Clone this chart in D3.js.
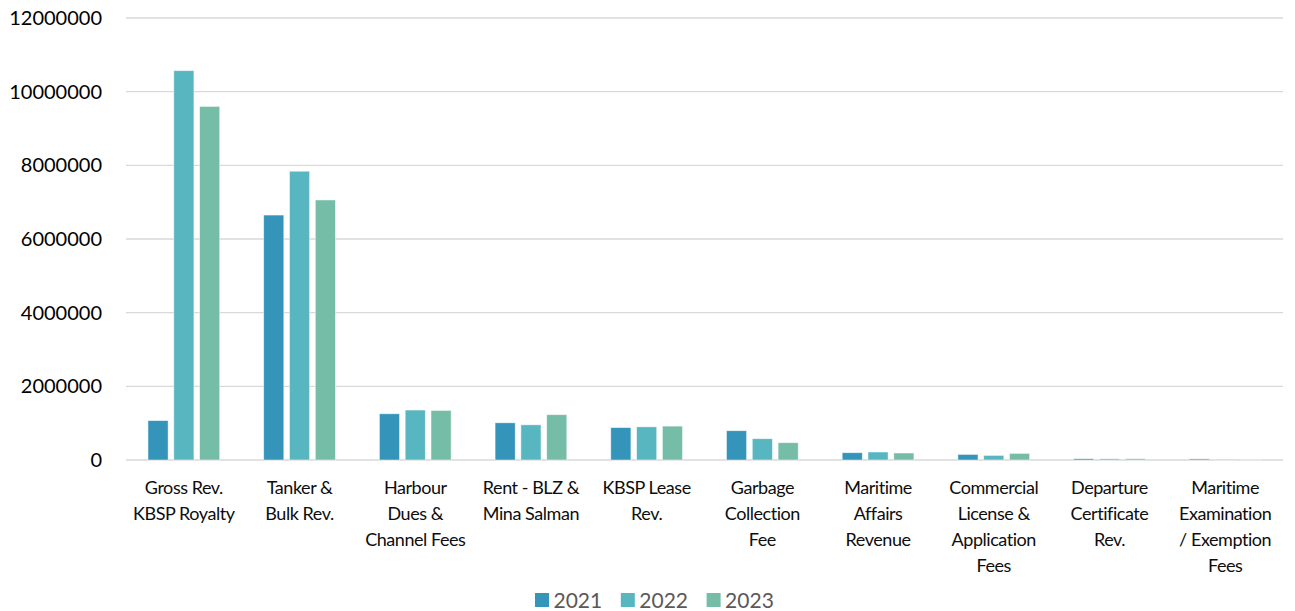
<!DOCTYPE html>
<html>
<head>
<meta charset="utf-8">
<script src="https://cdn.jsdelivr.net/npm/d3@7"></script>
<style>
  html, body { margin: 0; padding: 0; background: #fff; }
  svg { display: block; font-family: Lato, "Open Sans", sans-serif; }
</style>
</head>
<body>
<svg id="chart" width="1295" height="611"></svg>
<script>
// Revenue by source, 2021–2023
const categories = [
  "Gross Rev. KBSP Royalty",
  "Tanker & Bulk Rev.",
  "Harbour Dues & Channel Fees",
  "Rent - BLZ & Mina Salman",
  "KBSP Lease Rev.",
  "Garbage Collection Fee",
  "Maritime Affairs Revenue",
  "Commercial License & Application Fees",
  "Departure Certificate Rev.",
  "Maritime Examination / Exemption Fees"
];
const categoryLines = [
  ["Gross Rev.", "KBSP Royalty"],
  ["Tanker &", "Bulk Rev."],
  ["Harbour", "Dues &", "Channel Fees"],
  ["Rent - BLZ &", "Mina Salman"],
  ["KBSP Lease", "Rev."],
  ["Garbage", "Collection", "Fee"],
  ["Maritime", "Affairs", "Revenue"],
  ["Commercial", "License &", "Application", "Fees"],
  ["Departure", "Certificate", "Rev."],
  ["Maritime", "Examination", "/ Exemption", "Fees"]
];
const years = ["2021", "2022", "2023"];
const values2021 = [1070000, 6650000, 1255000, 1010000, 880000, 795000, 198000, 152000, 35000, 30000];
const values2022 = [10570000, 7840000, 1356000, 955000, 900000, 578000, 217000, 125000, 32000, 20000];
const values2023 = [9600000, 7060000, 1345000, 1230000, 920000, 470000, 190000, 180000, 35000, 15000];
const yTicks = [0, 2000000, 4000000, 6000000, 8000000, 10000000, 12000000];
const colors = ["#3494BA", "#58B6C0", "#75BDA7"];

const seriesValues = [values2021, values2022, values2023];
const rows = categories.map((c, i) => ({
  category: c,
  values: years.map((y, k) => ({ year: y, value: seriesValues[k][i] }))
}));

const svg = d3.select("#chart");
const margin = { left: 126, right: 12, top: 18, bottom: 151 };
const width = 1295 - margin.left - margin.right;
const height = 611 - margin.top - margin.bottom;

const g = svg.append("g").attr("transform", `translate(${margin.left},${margin.top})`);

const y = d3.scaleLinear().domain([0, 12000000]).range([height, 0]);
const x0 = d3.scaleBand().domain(categories).range([0, width]).padding(0);
const bw = x0.bandwidth();
const outer = bw * 0.19;
const x1 = d3.scaleBand().domain(years).range([outer, bw - outer]).paddingInner(0.22).paddingOuter(0);

// horizontal gridlines
g.append("g")
  .selectAll("line")
  .data(yTicks)
  .join("line")
  .attr("x1", 0).attr("x2", width)
  .attr("y1", d => y(d)).attr("y2", d => y(d))
  .attr("stroke", "#d9d9d9")
  .attr("stroke-width", d => d === 0 ? 1.6 : 1.3);

// y axis labels
const yAxis = d3.axisLeft(y).tickValues(yTicks).tickFormat(d3.format("d")).tickSize(0).tickPadding(24);
g.append("g").call(yAxis)
  .call(s => s.select(".domain").remove())
  .selectAll("text")
  .attr("font-size", 20)
  .attr("font-family", "Lato, sans-serif")
  .attr("fill", "#000");

// bars
g.append("g")
  .selectAll("g")
  .data(rows)
  .join("g")
  .attr("transform", d => `translate(${x0(d.category)},0)`)
  .selectAll("rect")
  .data(d => d.values)
  .join("rect")
  .attr("x", d => x1(d.year))
  .attr("width", x1.bandwidth())
  .attr("y", d => y(d.value))
  .attr("height", d => y(0) - y(d.value))
  .attr("fill", (d, i) => colors[i])
  .attr("stroke", "#ffffff")
  .attr("stroke-opacity", 0.6)
  .attr("stroke-width", 0.8);

// category labels
const labels = g.append("g")
  .selectAll("text")
  .data(categories)
  .join("text")
  .attr("text-anchor", "middle")
  .attr("font-size", 18)
  .attr("letter-spacing", -0.45)
  .attr("fill", "#0d0d0d")
  .attr("transform", d => `translate(${x0(d) + bw / 2},${height + 34})`);
labels.selectAll("tspan")
  .data((d, i) => categoryLines[i])
  .join("tspan")
  .attr("x", 0)
  .attr("dy", (d, i) => i === 0 ? 0 : 26)
  .text(d => d);

// legend
const legend = svg.append("g").attr("transform", "translate(535,600)");
const item = legend.selectAll("g")
  .data(years)
  .join("g")
  .attr("transform", (d, i) => `translate(${i * 85.8},0)`);
item.append("rect")
  .attr("x", 0).attr("y", -7)
  .attr("width", 14).attr("height", 14)
  .attr("fill", (d, i) => colors[i]);
item.append("text")
  .attr("x", 18.5).attr("y", 7.5)
  .attr("font-size", 21)
  .attr("fill", "#595959")
  .text(d => d);
</script>
</body>
</html>
